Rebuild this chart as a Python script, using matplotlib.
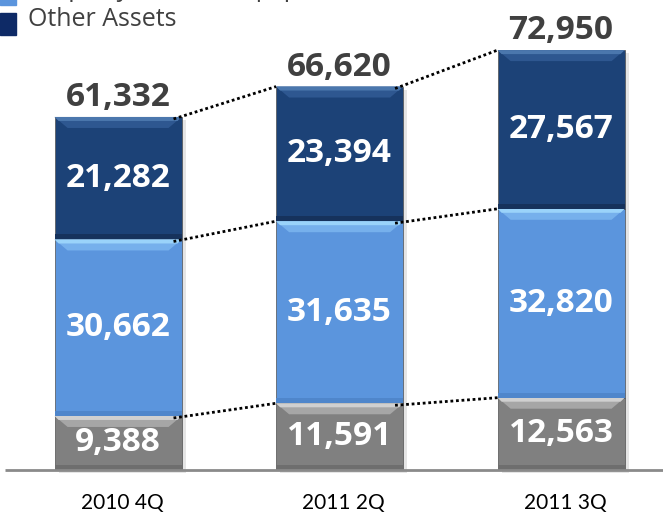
import matplotlib.pyplot as plt
import matplotlib.patches as mpatches
import numpy as np

# data (KRW bn)
periods = ['2010 4Q', '2011 2Q', '2011 3Q']
ppe = [9388, 11591, 12563]
invest = [30662, 31635, 32820]
other = [21282, 23394, 27567]
totals = [61332, 66620, 72950]
legend_labels = ['Property, Plant & Equipment', 'Other Assets']

seg_colors = ['#808080', '#5b95dd', '#1c4277']
hi_colors = ['#d0d0d0', '#9ad3fa', '#4b77ad']
mid_colors = ['#a6a6a6', '#76b0ec', '#2e5790']
bot_colors = ['#6e6e6e', '#4f86cb', '#16325c']

W, H = 663, 521
fig = plt.figure(figsize=(W / 100, H / 100), dpi=100)
ax = fig.add_axes([0, 0, 1, 1])
ax.set_xlim(-0.533, 2.46)
ax.set_ylim(-8860, 81654)
ax.axis('off')

px_x = 1 / 221.5          # data units per pixel (x)
px_y = 1 / 0.005756       # data units per pixel (y)
bw = 0.573
x = np.arange(len(periods))

series = [ppe, invest, other]
bottoms = np.zeros(len(periods))
bounds = []
for k, vals in enumerate(series):
    vals = np.array(vals, dtype=float)
    for i in range(len(x)):
        x0 = x[i] - bw / 2
        b = bottoms[i]
        t = b + vals[i]
        # drop shadow
        ax.add_patch(mpatches.Rectangle((x0 + 4 * px_x, b - 3 * px_y), bw, vals[i],
                                        color='#000000', alpha=0.10, lw=0, zorder=1))
        ax.add_patch(mpatches.Rectangle((x0, b), bw, vals[i], facecolor=seg_colors[k],
                                        edgecolor='#505050', lw=0.5, zorder=2))
        # darker bottom band
        ax.add_patch(mpatches.Rectangle((x0, b), bw, 5 * px_y, facecolor=bot_colors[k],
                                        lw=0, zorder=3))
        # bevel top
        bh = 11 * px_y
        ins = 13 * px_x
        ax.add_patch(mpatches.Polygon([(x0, t), (x0 + bw, t), (x0 + bw - ins, t - bh),
                                       (x0 + ins, t - bh)], closed=True,
                                      facecolor=mid_colors[k], lw=0, zorder=3))
        ax.add_patch(mpatches.Polygon([(x0, t), (x0 + bw, t), (x0 + bw - 4 * px_x, t - 4 * px_y),
                                       (x0 + 4 * px_x, t - 4 * px_y)], closed=True,
                                      facecolor=hi_colors[k], lw=0, zorder=3))
        ax.text(x[i], b + vals[i] / 2, f'{int(vals[i]):,}', ha='center', va='center',
                color='white', fontsize=24, fontweight='bold', family='Open Sans', zorder=5)
    bounds.append(bottoms.copy())
    bottoms = bottoms + vals
bounds.append(bottoms.copy())

# dotted connectors between segment boundaries
for lev in bounds[1:]:
    for i in range(len(x) - 1):
        ax.plot([x[i] + bw / 2 - 8 * px_x, x[i + 1] - bw / 2],
                [lev[i] - 2 * px_y, lev[i + 1]], color='black',
                linestyle=(0, (1, 1)), lw=2.0, zorder=4)

for i in range(len(x)):
    ax.annotate(f'{totals[i]:,}', (x[i], totals[i]), xytext=(0, 2), textcoords='offset points',
                ha='center', va='bottom', color='#404040', fontsize=24, fontweight='bold',
                family='Open Sans')
    ax.text(x[i] + 4 * px_x, -5750, periods[i], ha='center', va='center', fontsize=15,
            color='black', family='Lato')

# baseline
ax.plot([-0.51, 2.46], [0, 0], color='#8a8a8a', lw=2, zorder=6, solid_capstyle='butt')

# legend (partly off the top edge)
fig.patches.append(mpatches.Rectangle((0, (H - 5) / H), 16 / W, 22 / H, color='#5b95dd',
                                      transform=fig.transFigure, figure=fig))
fig.text(28 / W, (H + 11) / H, legend_labels[0], fontsize=18, color='#404040',
         va='center', family='Open Sans')
fig.patches.append(mpatches.Rectangle((0, (H - 35) / H), 16 / W, 22 / H, color='#0e2a66',
                                      transform=fig.transFigure, figure=fig))
fig.text(28 / W, (H - 19) / H, legend_labels[1], fontsize=18, color='#404040',
         va='center', family='Open Sans')

fig.savefig('out.png', dpi=100)
